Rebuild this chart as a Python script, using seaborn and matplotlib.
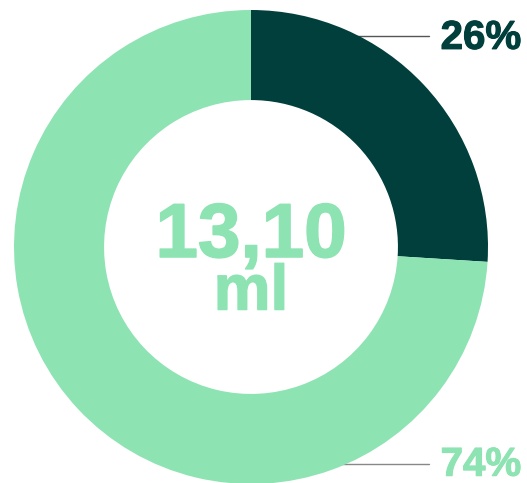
import matplotlib
matplotlib.use("Agg")
import matplotlib.pyplot as plt
import matplotlib.patheffects as pe
import seaborn as sns

sns.set_theme(style="white")
plt.rcParams["font.family"] = ["Liberation Sans", "DejaVu Sans"]

# Share of the dose, in percent
segments = ["Dose", "Remaining"]
shares = [26, 74]
share_labels = ["26%", "74%"]
colors = ["#003f3c", "#8de3b2"]
center_value = "13,10"
center_unit = "ml"

W, H = 527, 483
fig = plt.figure(figsize=(W / 100, H / 100), dpi=100)
fig.patch.set_facecolor("white")

# Axes square around the ring: center (251, 247) px, radius 237 px
cx, cy, r = 251, 247, 237
ax = fig.add_axes([(cx - r) / W, (H - cy - r) / H, 2 * r / W, 2 * r / H])
ax.axis("off")

ax.pie(shares, colors=colors, startangle=90, counterclock=False,
       radius=1.0, wedgeprops=dict(width=0.38, linewidth=0, antialiased=True))
ax.set_xlim(-1, 1)
ax.set_ylim(-1, 1)
ax.set_aspect("equal")


def heavy(color, w):
    return [pe.withStroke(linewidth=w, foreground=color)]


# Leader lines and percentage labels
ax.plot([0.3, 0.75], [0.89, 0.89], color="#555555", lw=1.0, zorder=0)
ax.plot([0.3, 0.75], [-0.915, -0.915], color="#888888", lw=1.0, zorder=0)
ax.text(0.80, 0.836, share_labels[0], color=colors[0], fontsize=29,
        fontweight="bold", ha="left", va="baseline",
        path_effects=heavy(colors[0], 0.8))
ax.text(0.80, -0.965, share_labels[1], color=colors[1], fontsize=29,
        fontweight="bold", ha="left", va="baseline",
        path_effects=heavy(colors[1], 0.8))

# Center figure
ax.text(0.0, -0.042, center_value, color=colors[1], fontsize=55,
        fontweight="bold", ha="center", va="baseline",
        path_effects=heavy(colors[1], 1.2))
ax.text(0.0, -0.264, center_unit, color=colors[1], fontsize=46,
        fontweight="bold", ha="center", va="baseline",
        path_effects=heavy(colors[1], 1.0))

fig.savefig("out.png", dpi=100, facecolor="white")
